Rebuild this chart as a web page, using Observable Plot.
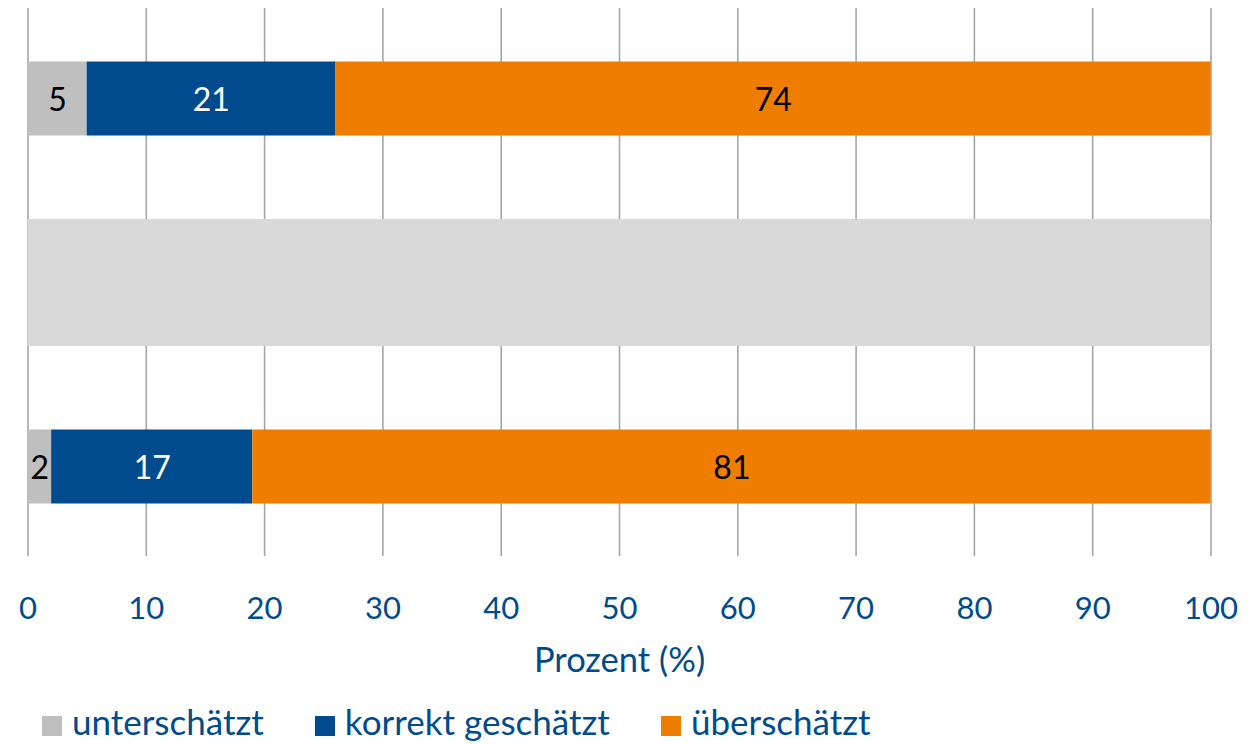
<!DOCTYPE html>
<html>
<head>
<meta charset="utf-8">
<script src="https://cdn.jsdelivr.net/npm/d3@7"></script>
<script src="https://cdn.jsdelivr.net/npm/@observablehq/plot@0.6"></script>
<style>
  html, body { margin: 0; padding: 0; background: #fff; }
  body { width: 1259px; height: 744px; overflow: hidden; font-family: Lato, "Open Sans", sans-serif; position: relative; }
  #legend { position: absolute; left: 42px; top: 704px; display: flex; align-items: center; height: 35px; color: #004b8d; font-size: 35px; line-height: 35px; }
  #legend .item { display: flex; align-items: center; margin-right: 51px; }
  #legend .sw { width: 20px; height: 20px; margin-right: 10px; margin-top: 8px; }
</style>
</head>
<body>
<div id="chart"></div>
<div id="legend"></div>
<script>
// ---- data ----
const categories = ["unterschätzt", "korrekt geschätzt", "überschätzt"];
const colors = ["#bfbfbf", "#004b8d", "#ef7d00"];
const labelColors = ["#000000", "#ffffff", "#000000"];
const rows = ["Gruppe 1", "Trenner", "Gruppe 2"];
const valuesRow1 = [5, 21, 74];
const valuesRow2 = [2, 17, 81];
const separatorValue = [100];
const xTicks = [0, 10, 20, 30, 40, 50, 60, 70, 80, 90, 100];
const axisLabel = "Prozent (%)";

const data = [];
categories.forEach((c, i) => data.push({row: rows[0], cat: c, value: valuesRow1[i], lc: labelColors[i]}));
categories.forEach((c, i) => data.push({row: rows[2], cat: c, value: valuesRow2[i], lc: labelColors[i]}));
const sep = separatorValue.map(v => ({row: rows[1], value: v}));

const blue = "#004b8d";
const W = 1259, H = 700;

const plot = Plot.plot({
  width: W,
  height: H,
  marginLeft: 27.5,
  marginRight: 48.5,
  marginTop: 8,
  marginBottom: H - 556,
  style: {fontFamily: "Lato, 'Open Sans', sans-serif", background: "#fff"},
  x: {domain: [0, 100]},
  y: {domain: rows, paddingInner: 0.31, paddingOuter: 0.144, axis: null},
  color: {domain: categories, range: colors},
  marks: [
    Plot.gridX(xTicks, {stroke: "#a6a6a6", strokeOpacity: 1, strokeWidth: 1.6}),
    Plot.barX(sep, {x: "value", y: "row", fill: "#d9d9d9"}),
    Plot.barX(data, Plot.stackX({x: "value", y: "row", fill: "cat", insetTop: 26.5, insetBottom: 26.5})),
    Plot.text(data, Plot.stackX({x: "value", y: "row", text: d => String(d.value), fill: "lc", fontSize: 32, dy: 2})),
    Plot.axisX(xTicks, {tickSize: 0, tickPadding: 40, fontSize: 31, color: blue, fill: blue, label: null, tickFormat: d => String(d)}),
    Plot.text([axisLabel], {frameAnchor: "bottom", dy: 104, text: d => d, fontSize: 34.5, fill: blue, lineAnchor: "middle"})
  ]
});
document.getElementById("chart").appendChild(plot);

const legend = document.getElementById("legend");
categories.forEach((c, i) => {
  const item = document.createElement("div");
  item.className = "item";
  const sw = document.createElement("span");
  sw.className = "sw";
  sw.style.background = colors[i];
  const t = document.createElement("span");
  t.textContent = c;
  item.appendChild(sw);
  item.appendChild(t);
  legend.appendChild(item);
});
</script>
</body>
</html>
